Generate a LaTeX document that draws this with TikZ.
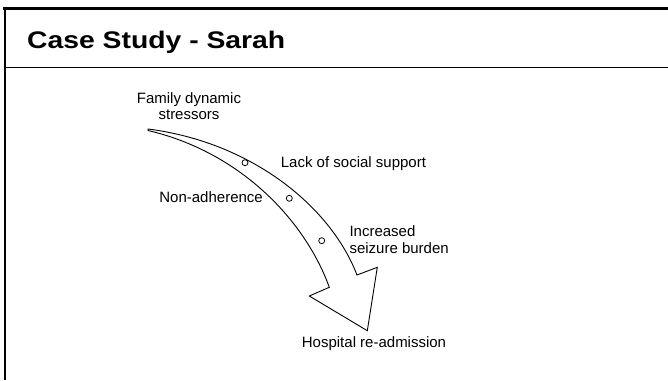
\documentclass[tikz,border=0pt]{standalone}
\usepackage{fontspec}
\setmainfont{Liberation Sans}
\newfontfamily\titlefont[FakeStretch=1.18]{Liberation Sans}
\tikzset{
  lbl/.style={inner sep=0pt, font=\fontsize{15}{16.5}\selectfont},
  dotmark/.style={circle, draw, line width=0.8pt, inner sep=0pt, minimum size=6pt},
  bigarrow/.style={draw, line width=0.9pt, line join=miter, fill=white},
}
\begin{document}
\begin{tikzpicture}[x=1pt,y=-1pt]
  \useasboundingbox (0,0) rectangle (668,380);
  \fill[white] (0,0) rectangle (668,380);

  % slide frame and title bar
  \draw[line width=3pt] (3,8.3) -- (668,8.3);
  \draw[line width=2pt] (5,8) -- (5,380);
  \draw[line width=1pt] (5,67.5) -- (668,67.5);
  \node[anchor=base west, inner sep=0pt, font=\titlefont\bfseries\fontsize{24}{28}\selectfont]
    (title) at (27,48) {Case Study - Sarah};

  % curved block arrow
  \draw[bigarrow]
    (148,129) .. controls (250,142) and (330,205) .. (357,275)
    -- (377.3,267.3) -- (367.3,330.7) -- (309.3,296) -- (329.3,287.3)
    .. controls (305,220) and (240,152) .. (148,130.5) -- cycle;

  % markers along the arrow
  \node[dotmark] (m1) at (245,162.7) {};
  \node[dotmark] (m2) at (289.3,198.3) {};
  \node[dotmark] (m3) at (321.7,240.7) {};

  % labels (base anchor of a two-line node sits on its last line)
  \node[lbl, anchor=base, align=center] (fam) at (189,119.5) {Family dynamic\\stressors};
  \node[lbl, anchor=base west] (lack) at (280.7,167) {Lack of social support};
  \node[lbl, anchor=base east] (nonadh) at (263,202) {Non-adherence};
  \node[lbl, anchor=base west, align=left] (seiz) at (349.3,253) {Increased\\seizure burden};
  \node[lbl, anchor=base west] (hosp) at (301.7,347.3) {Hospital re-admission};
\end{tikzpicture}
\end{document}
